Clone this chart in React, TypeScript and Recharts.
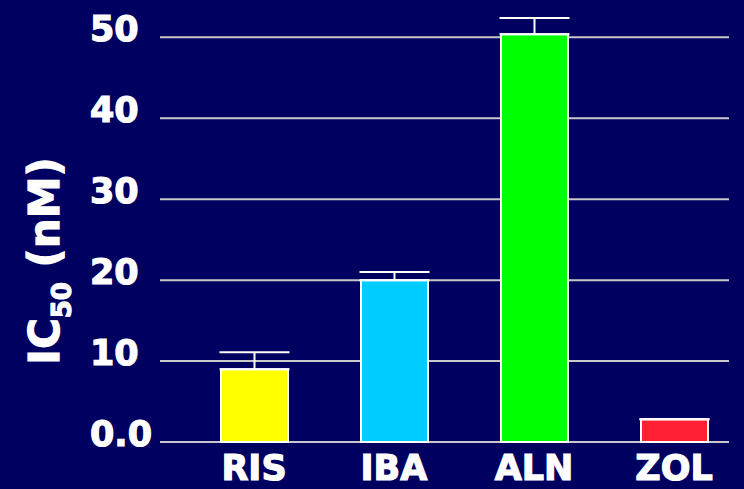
import React from "react";
import { BarChart, Bar, XAxis, YAxis, CartesianGrid, ErrorBar, Cell } from "recharts";

const categories = ["RIS", "IBA", "ALN", "ZOL"];
const values = [9.0, 20.0, 50.4, 2.8];
const upperErrors = [2.1, 1.0, 2.0, 0];
const barColors = ["#ffff00", "#00ccff", "#00ff00", "#ff1f33"];
const yTicks = [0, 10, 20, 30, 40, 50];
const yTickLabels = ["0.0", "10", "20", "30", "40", "50"];

const data = categories.map((name, i) => ({
  name,
  value: values[i],
  err: [0, upperErrors[i]],
}));

const FONT = "'DejaVu Sans', Verdana, sans-serif";

const YTick = (props: any) => {
  const { y, payload } = props;
  const idx = yTicks.indexOf(payload.value);
  return (
    <text x={90} y={y + 4} textAnchor="start" fill="#ffffff" stroke="#ffffff" strokeWidth={1.2} fontFamily={FONT} fontWeight="bold" fontSize={35}>
      {idx >= 0 ? yTickLabels[idx] : payload.value}
    </text>
  );
};

const XTick = (props: any) => {
  const { x, payload } = props;
  return (
    <text x={x} y={480} textAnchor="middle" fill="#ffffff" stroke="#ffffff" strokeWidth={1.2} fontFamily={FONT} fontWeight="bold" fontSize={35}>
      {payload.value}
    </text>
  );
};

const YLabel = () => (
  <text
    x={59}
    y={261}
    textAnchor="middle"
    transform="rotate(-90, 59, 261)"
    fill="#ffffff"
    stroke="#ffffff"
    strokeWidth={1.2}
    fontFamily={FONT}
    fontWeight="bold"
    fontSize={42}
  >
    IC
    <tspan fontSize={26} dy={12}>50</tspan>
    <tspan dy={-12}> (nM)</tspan>
  </text>
);

export default function App() {
  return (
    <div style={{ position: "absolute", left: 0, top: 0, width: 744, height: 489, background: "#000060" }}>
      <BarChart width={744} height={489} data={data} margin={{ top: 5, right: 0, bottom: 0, left: 0 }}>
        <CartesianGrid
          horizontal
          vertical={false}
          horizontalValues={yTicks}
          x={160}
          width={569}
          stroke="#c8c8c8"
          strokeWidth={2}
        />
        <XAxis dataKey="name" axisLine={false} tickLine={false} height={47} tick={<XTick />} interval={0} />
        <YAxis
          width={184}
          domain={[0, 54]}
          ticks={yTicks}
          axisLine={false}
          tickLine={false}
          tick={<YTick />}
          label={{ content: () => <YLabel /> }}
        />
        <Bar dataKey="value" barSize={67} stroke="#ffffff" strokeWidth={2} isAnimationActive={false}>
          {data.map((d, i) => (
            <Cell key={d.name} fill={barColors[i]} />
          ))}
          <ErrorBar dataKey="err" direction="y" width={35} stroke="#ffffff" strokeWidth={2} isAnimationActive={false} />
        </Bar>
      </BarChart>
    </div>
  );
}
